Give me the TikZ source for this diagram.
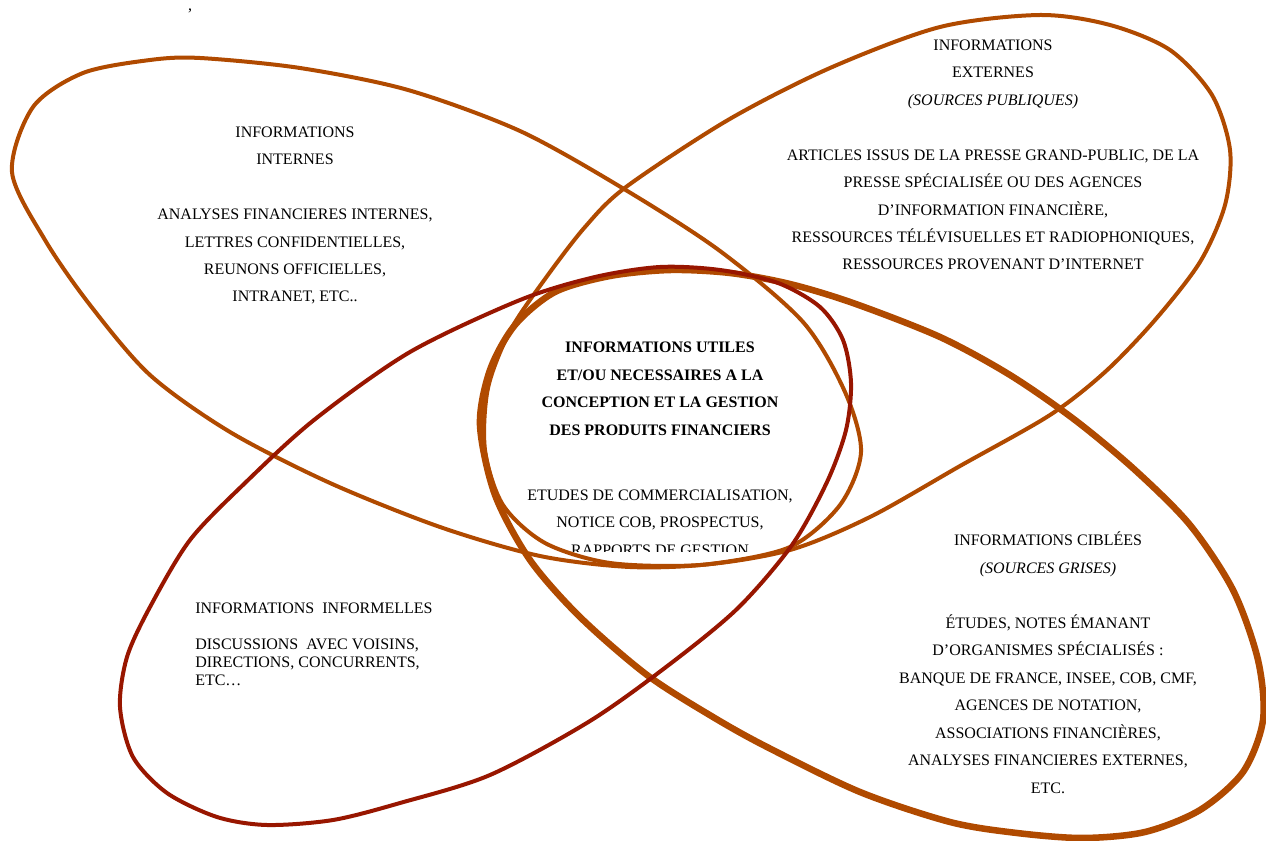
\documentclass[tikz,border=0pt]{standalone}
\usepackage{fontspec}
\setmainfont{Liberation Serif}
\definecolor{rouille}{RGB}{176,74,0}
\definecolor{bordeaux}{RGB}{152,22,0}
\tikzset{
	bulle/.style={line width=3pt,draw=rouille},
	bullegrasse/.style={line width=4.9pt,draw=rouille},
	bullerouge/.style={line width=3pt,draw=bordeaux},
	texte/.style={align=center,inner sep=0pt,anchor=base,font=\fontsize{12}{20.6}\selectfont},
}

\begin{document}
\begin{tikzpicture}[x=0.75pt,y=-0.75pt]
	\useasboundingbox (0,0) rectangle (1266,841);
	% informations internes
	\draw[bulle] plot[smooth cycle] coordinates {(12,172) (33,107) (83,73) (150,60) (200,58) (300,68) (408,90) (520,131) (624,189) (720,251) (803,322) (845,392) (861,452) (840,505) (790,547) (710,564) (630,567) (540,556) (440,527) (330,483) (230,432) (150,375) (90,305) (45,240)};
	% informations externes
	\draw[bulle] plot[smooth cycle] coordinates {(1040,15) (1110,25) (1170,50) (1212,95) (1230,150) (1225,205) (1200,262) (1155,320) (1105,372) (1050,415) (960,466) (870,517) (790,550) (700,565) (610,563) (545,543) (503,505) (485,450) (488,388) (510,331) (545,279) (585,227) (626,187) (728,120) (830,68) (940,27)};
	% informations ciblees
	\draw[bullegrasse] plot[smooth cycle] coordinates {(480,425) (490,370) (515,325) (555,292) (610,276) (670,270) (730,273) (790,284) (853,303) (940,337) (1010,375) (1075,420) (1135,470) (1190,525) (1233,590) (1258,660) (1263,720) (1243,772) (1200,810) (1145,832) (1083,838) (1017,833) (950,822) (860,792) (767,747) (713,717) (647,675) (580,617) (530,560) (495,495)};
	% informations informelles
	\draw[bullerouge] plot[smooth cycle] coordinates {(660,267) (720,270) (778,283) (820,307) (843,340) (851,383) (846,430) (827,482) (792,545) (738,608) (670,664) (590,721) (490,775) (400,803) (333,820) (267,825) (217,817) (167,793) (133,757) (120,707) (127,657) (150,607) (190,540) (245,483) (314,420) (410,352) (520,300) (595,277)};
	%
	\node[texte] (virgule) at (190,11) {,};
	\node[texte] (internes) at (295,302) {INFORMATIONS\\INTERNES\\[20.6pt]ANALYSES FINANCIERES INTERNES,\\LETTRES CONFIDENTIELLES,\\REUNONS OFFICIELLES,\\INTRANET, ETC..};
	\node[texte] (externes) at (993,270) {INFORMATIONS\\EXTERNES\\\textit{(SOURCES PUBLIQUES)}\\[20.6pt]ARTICLES ISSUS DE LA PRESSE GRAND-PUBLIC, DE LA\\PRESSE SPÉCIALISÉE OU DES AGENCES\\D’INFORMATION FINANCIÈRE,\\RESSOURCES TÉLÉVISUELLES ET RADIOPHONIQUES,\\RESSOURCES PROVENANT D’INTERNET};
	\node[texte] (ciblees) at (1048,793) {INFORMATIONS CIBLÉES\\\textit{(SOURCES GRISES)}\\[20.6pt]ÉTUDES, NOTES ÉMANANT\\D’ORGANISMES SPÉCIALISÉS :\\BANQUE DE FRANCE, INSEE, COB, CMF,\\AGENCES DE NOTATION,\\ASSOCIATIONS FINANCIÈRES,\\ANALYSES FINANCIERES EXTERNES,\\ETC.};
	\node[texte,align=left,anchor=base west,font=\fontsize{12}{13.5}\selectfont] (informelles) at (195,685) {INFORMATIONS\ \ INFORMELLES\\[13.5pt]DISCUSSIONS\ \ AVEC VOISINS,\\DIRECTIONS, CONCURRENTS,\\ETC…};
	\begin{scope}
		\clip (400,250) rectangle (900,551);
		\node[texte] (utiles) at (660,555) {\textbf{INFORMATIONS UTILES}\\\textbf{ET/OU NECESSAIRES A LA}\\\textbf{CONCEPTION ET LA GESTION}\\\textbf{DES PRODUITS FINANCIERS}\\[28pt]ETUDES DE COMMERCIALISATION,\\NOTICE COB, PROSPECTUS,\\RAPPORTS DE GESTION};
	\end{scope}
\end{tikzpicture}
\end{document}
